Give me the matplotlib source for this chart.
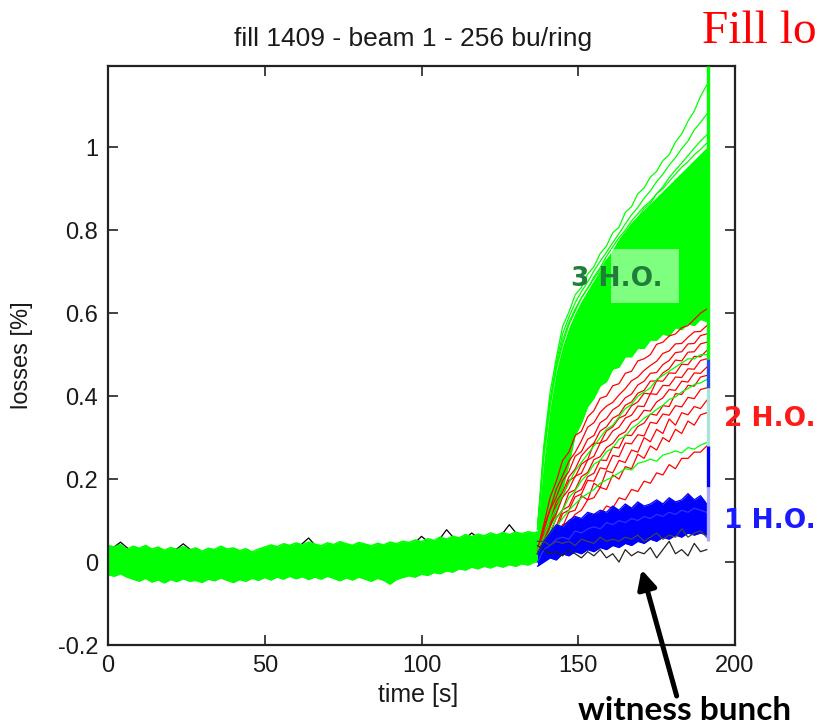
import numpy as np
import matplotlib
matplotlib.use("Agg")
import matplotlib.pyplot as plt
from matplotlib.patches import Rectangle

# ------------------------------------------------------------------ data
x_ticks = [0, 50, 100, 150, 200]
y_ticks = [-0.2, 0, 0.2, 0.4, 0.6, 0.8, 1.0]
y_tick_labels = ["-0.2", "0", "0.2", "0.4", "0.6", "0.8", "1"]

# flat part (all bunches), envelope of the dense band, 2 s steps 0..138 s
t_base = np.arange(0, 139, 2)
base_upper = [0.040, 0.036, 0.042, 0.030, 0.038, 0.033, 0.040, 0.031, 0.036, 0.028,
              0.035, 0.030, 0.037, 0.029, 0.034, 0.026, 0.033, 0.030, 0.038, 0.031,
              0.034, 0.027, 0.032, 0.024, 0.031, 0.036, 0.041, 0.037, 0.044, 0.040,
              0.046, 0.041, 0.048, 0.043, 0.039, 0.046, 0.042, 0.049, 0.044, 0.040,
              0.047, 0.043, 0.039, 0.045, 0.041, 0.048, 0.044, 0.050, 0.047, 0.053,
              0.049, 0.056, 0.052, 0.060, 0.055, 0.062, 0.058, 0.066, 0.061, 0.067,
              0.063, 0.070, 0.065, 0.071, 0.066, 0.072, 0.068, 0.073, 0.070, 0.075]
base_lower = [-0.030, -0.034, -0.028, -0.036, -0.041, -0.046, -0.039, -0.048, -0.043, -0.050,
              -0.042, -0.047, -0.040, -0.046, -0.044, -0.049, -0.041, -0.045, -0.038, -0.044,
              -0.049, -0.042, -0.046, -0.039, -0.044, -0.037, -0.043, -0.036, -0.041, -0.034,
              -0.040, -0.035, -0.042, -0.036, -0.041, -0.034, -0.039, -0.045, -0.038, -0.043,
              -0.036, -0.041, -0.046, -0.039, -0.044, -0.053, -0.042, -0.037, -0.033, -0.036,
              -0.029, -0.032, -0.025, -0.028, -0.021, -0.024, -0.016, -0.019, -0.012, -0.016,
              -0.010, -0.014, -0.008, -0.012, -0.006, -0.010, -0.004, -0.007, 0.000, 0.002]

# witness bunch in the flat part (mostly hidden), 4 s steps
t_black0 = np.arange(0, 137, 4)
black0 = [0.025, 0.048, 0.022, 0.025, 0.021, 0.020, 0.044, 0.019, 0.018, 0.022,
          0.019, 0.017, 0.016, 0.026, 0.029, 0.031, 0.058, 0.024, 0.027, 0.029,
          0.032, 0.024, 0.026, 0.029, 0.032, 0.062, 0.037, 0.078, 0.043, 0.070,
          0.048, 0.050, 0.090, 0.053, 0.055]

# rising part, 2 s steps 137..191 s
t_rise = np.arange(137, 192, 2)

# 3 H.O. (green): dense band and outer traces
green_upper = [0.08, 0.24, 0.37, 0.46, 0.52, 0.565, 0.60, 0.63, 0.655, 0.68, 0.705, 0.73, 0.755, 0.78,
               0.80, 0.82, 0.835, 0.85, 0.865, 0.88, 0.895, 0.91, 0.925, 0.94, 0.955, 0.97, 0.985, 1.0]
green_lower = [0.0, 0.04, 0.085, 0.115, 0.175, 0.235, 0.305, 0.335, 0.375, 0.395, 0.425, 0.435, 0.465, 0.47,
               0.495, 0.495, 0.515, 0.515, 0.535, 0.535, 0.55, 0.545, 0.565, 0.56, 0.575, 0.57, 0.585, 0.58]
green_g1 = [0.08, 0.28, 0.408, 0.492, 0.568, 0.602, 0.644, 0.662, 0.694, 0.712, 0.744, 0.762, 0.794, 0.807,
            0.843, 0.857, 0.888, 0.902, 0.928, 0.942, 0.968, 0.982, 1.013, 1.032, 1.063, 1.087, 1.123, 1.15]
green_g2 = [0.08, 0.27, 0.39, 0.48, 0.55, 0.59, 0.625, 0.652, 0.675, 0.702, 0.725, 0.747, 0.77, 0.792,
            0.815, 0.837, 0.855, 0.877, 0.895, 0.917, 0.935, 0.957, 0.975, 0.997, 1.015, 1.042, 1.06, 1.08]
green_g3 = [0.08, 0.26, 0.38, 0.47, 0.535, 0.578, 0.61, 0.637, 0.66, 0.683, 0.705, 0.728, 0.745, 0.768,
            0.79, 0.812, 0.83, 0.852, 0.865, 0.888, 0.905, 0.927, 0.945, 0.962, 0.98, 0.998, 1.015, 1.03]
green_g4 = [0.08, 0.25, 0.375, 0.465, 0.525, 0.572, 0.605, 0.637, 0.66, 0.687, 0.71, 0.737, 0.76, 0.782,
            0.80, 0.822, 0.84, 0.857, 0.87, 0.888, 0.90, 0.918, 0.935, 0.952, 0.965, 0.982, 0.995, 1.01]
green_g5 = [0.02, 0.04, 0.065, 0.085, 0.105, 0.125, 0.14, 0.155, 0.165, 0.175, 0.19, 0.198, 0.205, 0.215,
            0.225, 0.222, 0.238, 0.242, 0.248, 0.243, 0.258, 0.262, 0.268, 0.263, 0.276, 0.272, 0.282, 0.288]
green_g6 = [0.02, 0.05, 0.075, 0.105, 0.125, 0.155, 0.172, 0.196, 0.212, 0.236, 0.245, 0.266, 0.275, 0.296,
            0.303, 0.322, 0.333, 0.347, 0.356, 0.368, 0.378, 0.392, 0.398, 0.41, 0.418, 0.428, 0.432, 0.44]
green_g7 = [0.03, 0.06, 0.10, 0.13, 0.16, 0.19, 0.22, 0.24, 0.26, 0.28, 0.30, 0.32, 0.33, 0.35,
            0.37, 0.38, 0.40, 0.41, 0.42, 0.44, 0.45, 0.46, 0.47, 0.48, 0.49, 0.49, 0.50, 0.50]

# 2 H.O. (red)
red_r1 = [0.03, 0.09, 0.155, 0.195, 0.245, 0.265, 0.305, 0.315, 0.35, 0.365, 0.395, 0.40, 0.425, 0.43,
          0.455, 0.46, 0.485, 0.49, 0.50, 0.525, 0.53, 0.545, 0.55, 0.565, 0.57, 0.585, 0.60, 0.61]
red_r2 = [0.02, 0.084, 0.127, 0.176, 0.208, 0.243, 0.264, 0.292, 0.325, 0.336, 0.361, 0.376, 0.385, 0.403,
          0.418, 0.437, 0.446, 0.462, 0.474, 0.484, 0.503, 0.509, 0.526, 0.527, 0.542, 0.555, 0.556, 0.57]
red_r3 = [0.03, 0.076, 0.126, 0.157, 0.196, 0.218, 0.255, 0.266, 0.296, 0.305, 0.336, 0.346, 0.367, 0.377,
          0.396, 0.405, 0.427, 0.436, 0.455, 0.457, 0.476, 0.486, 0.505, 0.507, 0.526, 0.527, 0.546, 0.55]
red_r4 = [0.02, 0.065, 0.097, 0.146, 0.168, 0.205, 0.224, 0.256, 0.273, 0.287, 0.316, 0.326, 0.347, 0.355,
          0.378, 0.386, 0.407, 0.414, 0.436, 0.437, 0.456, 0.466, 0.487, 0.485, 0.506, 0.507, 0.526, 0.53]
red_r5 = [0.02, 0.056, 0.086, 0.136, 0.157, 0.197, 0.205, 0.236, 0.247, 0.286, 0.287, 0.316, 0.326, 0.347,
          0.354, 0.377, 0.386, 0.407, 0.405, 0.437, 0.436, 0.456, 0.455, 0.477, 0.476, 0.496, 0.495, 0.51]
red_r6 = [0.02, 0.047, 0.086, 0.117, 0.156, 0.175, 0.207, 0.214, 0.246, 0.255, 0.287, 0.294, 0.316, 0.325,
          0.347, 0.354, 0.376, 0.375, 0.406, 0.404, 0.426, 0.425, 0.446, 0.445, 0.466, 0.465, 0.486, 0.49]
red_r7 = [0.02, 0.046, 0.066, 0.107, 0.126, 0.167, 0.174, 0.206, 0.216, 0.247, 0.254, 0.276, 0.286, 0.306,
          0.314, 0.337, 0.345, 0.366, 0.364, 0.386, 0.396, 0.416, 0.414, 0.436, 0.434, 0.456, 0.455, 0.47]
red_r8 = [0.02, 0.036, 0.075, 0.086, 0.126, 0.134, 0.167, 0.175, 0.206, 0.214, 0.246, 0.245, 0.277, 0.275,
          0.306, 0.305, 0.327, 0.335, 0.357, 0.354, 0.377, 0.375, 0.406, 0.404, 0.426, 0.424, 0.446, 0.45]
red_r9 = [0.02, 0.035, 0.066, 0.076, 0.117, 0.125, 0.157, 0.164, 0.197, 0.195, 0.227, 0.224, 0.257, 0.254,
          0.287, 0.285, 0.307, 0.304, 0.337, 0.334, 0.357, 0.354, 0.377, 0.374, 0.397, 0.394, 0.416, 0.42]
red_r10 = [0.02, 0.035, 0.045, 0.08, 0.085, 0.12, 0.125, 0.16, 0.15, 0.19, 0.18, 0.22, 0.215, 0.245,
           0.24, 0.27, 0.265, 0.30, 0.29, 0.32, 0.31, 0.345, 0.33, 0.36, 0.355, 0.375, 0.37, 0.39]
red_r11 = [0.02, 0.025, 0.055, 0.06, 0.09, 0.095, 0.115, 0.125, 0.15, 0.155, 0.18, 0.175, 0.21, 0.20,
           0.23, 0.225, 0.26, 0.25, 0.28, 0.27, 0.30, 0.29, 0.32, 0.31, 0.34, 0.33, 0.355, 0.36]
red_r12 = [0.02, 0.03, 0.035, 0.055, 0.055, 0.075, 0.075, 0.095, 0.095, 0.115, 0.115, 0.135, 0.13, 0.155,
           0.15, 0.175, 0.17, 0.195, 0.19, 0.215, 0.21, 0.235, 0.225, 0.25, 0.25, 0.265, 0.265, 0.28]

# 1 H.O. (blue): band and an inner trace
blue_upper = [0.02, 0.05, 0.07, 0.09, 0.085, 0.10, 0.11, 0.105, 0.12, 0.115, 0.125, 0.12, 0.135, 0.125,
              0.14, 0.13, 0.145, 0.135, 0.14, 0.15, 0.14, 0.155, 0.145, 0.15, 0.165, 0.15, 0.16, 0.14]
blue_lower = [-0.01, 0.0, 0.01, 0.005, 0.02, 0.015, 0.025, 0.02, 0.03, 0.025, 0.035, 0.03, 0.04, 0.035,
              0.045, 0.04, 0.05, 0.045, 0.055, 0.05, 0.06, 0.055, 0.065, 0.06, 0.07, 0.065, 0.07, 0.065]
blue_mid = [0.00, 0.03, 0.04, 0.055, 0.06, 0.055, 0.075, 0.07, 0.08, 0.085, 0.08, 0.095, 0.09, 0.10,
            0.095, 0.105, 0.10, 0.11, 0.105, 0.115, 0.11, 0.12, 0.115, 0.125, 0.12, 0.13, 0.125, 0.12]

# witness bunch (black)
black_k1 = [0.04, 0.03, 0.02, 0.025, 0.015, 0.03, 0.02, 0.01, 0.025, 0.015, 0.03, 0.01, 0.02, 0.0,
            0.03, 0.015, 0.025, 0.02, 0.035, 0.01, 0.03, 0.05, 0.02, 0.03, 0.015, 0.045, 0.025, 0.03]
black_k2 = [0.05, 0.05, 0.04, 0.05, 0.045, 0.05, 0.04, 0.055, 0.05, 0.045, 0.06, 0.05, 0.055, 0.05,
            0.06, 0.055, 0.065, 0.05, 0.06, 0.07, 0.055, 0.065, 0.06, 0.08, 0.06, 0.07, 0.075, 0.06]

# final sample: vertical segments at end of fill
end_t = 191.3
end_bottom = [0.49, 0.42, 0.28, 0.18, 0.05]
end_top = [1.196, 0.49, 0.42, 0.28, 0.18]
end_color = ["#00ff00", "#2050e0", "#a8e4d8", "#0000ff", "#a8a8ff"]

# ------------------------------------------------------------------ figure
plt.rcParams["font.family"] = ["Liberation Sans", "DejaVu Sans"]
W, H = 817, 726
fig = plt.figure(figsize=(W / 100, H / 100), dpi=100)
ax = fig.add_axes([108 / W, (H - 645) / H, (735 - 108) / W, (645 - 66) / H])

GREEN, RED, BLUE = "#00ff00", "#ff0000", "#0000ff"
lw = 0.9

# flat part
ax.plot(t_black0, black0, color="black", lw=lw, zorder=1)
ax.fill_between(t_base, base_lower, base_upper, color=GREEN, lw=0, zorder=2)
ax.plot(t_base, base_upper, color=GREEN, lw=1.2, zorder=2)
ax.plot(t_base, base_lower, color=GREEN, lw=1.2, zorder=2)

# 3 H.O.
ax.fill_between(t_rise, green_lower, green_upper, color=GREEN, lw=0, zorder=2)
ax.plot(t_rise, green_lower, color=GREEN, lw=lw, zorder=2)
for g in (green_g1, green_g2, green_g3, green_g4):
    ax.plot(t_rise, g, color=GREEN, lw=lw, zorder=2)

# 2 H.O.
for r in (red_r1, red_r2, red_r3, red_r4, red_r5, red_r6, red_r7,
          red_r8, red_r9, red_r10, red_r11, red_r12):
    ax.plot(t_rise, r, color=RED, lw=lw, zorder=3)
for g in (green_g5, green_g6, green_g7):
    ax.plot(t_rise, g, color=GREEN, lw=lw, zorder=3.5)

# 1 H.O.
ax.fill_between(t_rise, blue_lower, blue_upper, color=BLUE, lw=0, zorder=4)
ax.plot(t_rise, blue_upper, color=BLUE, lw=lw, zorder=4)
ax.plot(t_rise, blue_lower, color=BLUE, lw=lw, zorder=4)
ax.plot(t_rise, blue_mid, color="#3030ff", lw=lw, zorder=4)

# witness
ax.plot(t_rise, black_k1, color="#222222", lw=lw, zorder=4.5)
ax.plot(t_rise, black_k2, color="#444444", lw=lw, zorder=4.5)

# end segments
for b, tp, c in zip(end_bottom, end_top, end_color):
    ax.plot([end_t, end_t], [b, tp], color=c, lw=2.4, zorder=5, solid_capstyle="butt")

# 3 H.O. label with translucent box
ax.add_patch(Rectangle((160.5, 0.625), 21.5, 0.13, facecolor="white", alpha=0.5,
                       edgecolor="none", zorder=6))
ax.text(147.8, 0.682, "3 H.O.", color="#1f7f3a", fontsize=19, fontweight="bold",
        family="DejaVu Sans", va="center", ha="left", zorder=7)
ax.text(196.5, 0.345, "2 H.O.", color="#ff1a1a", fontsize=19, fontweight="bold",
        family="DejaVu Sans", va="center", ha="left", clip_on=False, zorder=7)
ax.text(196.5, 0.099, "1 H.O.", color="#1a1aff", fontsize=19, fontweight="bold",
        family="DejaVu Sans", va="center", ha="left", clip_on=False, zorder=7)

# witness-bunch arrow
ax.annotate("", xy=(170.2, -0.018), xytext=(181.4, -0.323),
            arrowprops=dict(arrowstyle="-|>", color="black", lw=3.6, mutation_scale=28,
                            shrinkA=0, shrinkB=0),
            annotation_clip=False, zorder=8)

# axes styling
ax.set_xlim(0, 200)
ax.set_ylim(-0.2, 1.196)
ax.set_xticks(x_ticks)
ax.set_xticklabels([str(v) for v in x_ticks])
ax.set_yticks(y_ticks)
ax.set_yticklabels(y_tick_labels)
ax.tick_params(direction="in", top=True, right=True, length=7, width=1.2,
               labelsize=17, color="#222222", labelcolor="#1a1a1a")
ax.tick_params(axis="x", pad=7)
ax.tick_params(axis="y", pad=7)
for s in ax.spines.values():
    s.set_linewidth(1.6)
    s.set_color("#222222")

fig.text(0.027, (H - 355) / H, "losses [%]", rotation=90, ha="center", va="center",
         fontsize=17, color="#1a1a1a")
fig.text(418 / W, (H - 695) / H, "time [s]", ha="center", va="center",
         fontsize=18, color="#1a1a1a")
fig.text(413 / W, (H - 46) / H, "fill 1409 - beam 1 - 256 bu/ring", ha="center",
         va="baseline", fontsize=19, color="#1a1a1a")
fig.text(702 / W, (H - 43) / H, "Fill lo", ha="left", va="baseline", color="#ff0000",
         fontsize=34, family="Liberation Serif")
fig.text(685 / W, (H - 710) / H, "witness bunch", ha="center", va="center",
         fontsize=24, fontweight="bold", family="Lato", color="black")

fig.savefig("out.png", dpi=100)
